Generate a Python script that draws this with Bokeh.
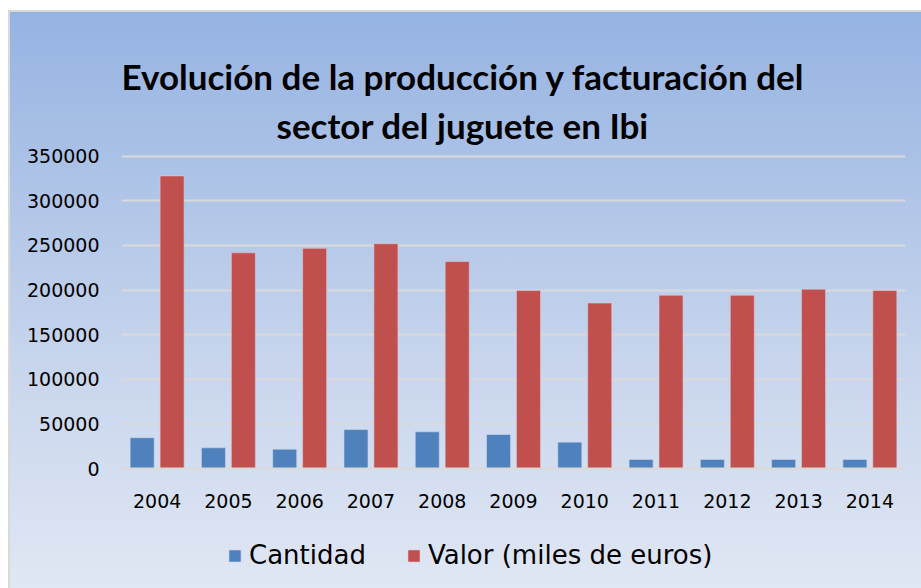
from bokeh.plotting import figure
from bokeh.models import (FactorRange, Title, Legend, LegendItem, FixedTicker,
                          NumeralTickFormatter, ColumnDataSource)
from bokeh.transform import dodge
from bokeh.embed import file_html
from bokeh.resources import INLINE

years = ['2004', '2005', '2006', '2007', '2008', '2009', '2010', '2011', '2012', '2013', '2014']
cantidad = [34500, 23200, 21600, 43700, 41100, 38100, 29500, 10100, 10100, 10100, 10100]
valor = [328000, 241800, 246800, 252000, 232000, 199500, 185500, 194200, 194200, 201000, 199500]
y_ticks = [0, 50000, 100000, 150000, 200000, 250000, 300000, 350000]
title_lines = ["Evolución de la producción y facturación del", "sector del juguete en Ibi"]
series_names = ["Cantidad", "Valor (miles de euros)"]

src = ColumnDataSource(dict(years=years, cantidad=cantidad, valor=valor))

# frame covers the plot and the space below it, so the legend sits inside the frame
FRAME_H, PX_ABOVE_ZERO = 434, 314
y_top = 352000
y_bottom = -y_top * (FRAME_H - PX_ABOVE_ZERO) / PX_ABOVE_ZERO

p = figure(x_range=FactorRange(*years, range_padding=0), y_range=(y_bottom, y_top),
           frame_width=784, frame_height=FRAME_H, output_backend="svg", toolbar_location=None,
           min_border_left=111, min_border_right=16, min_border_top=142,
           min_border_bottom=0)
p.styles = {"background": "linear-gradient(to bottom, #95b3e2 0px, #c6d4ec 340px, #e0e7f4 576px)",
            "border-top": "2px solid #d9d9d9", "border-left": "2px solid #d9d9d9",
            "margin-top": "10px", "margin-left": "8px"}
p.background_fill_alpha = 0
p.border_fill_alpha = 0
p.outline_line_color = None

r1 = p.vbar(x=dodge('years', -0.21, range=p.x_range), top='cantidad', width=0.337,
            source=src, fill_color="#4f81bd", line_color="#c9d6ea", line_alpha=0.6)
r2 = p.vbar(x=dodge('years', 0.21, range=p.x_range), top='valor', width=0.337,
            source=src, fill_color="#c0504d", line_color="#d9c9d9", line_alpha=0.6)

p.xgrid.grid_line_color = None
p.ygrid.grid_line_color = "#d9d9d9"
p.ygrid.grid_line_width = 2
p.yaxis.ticker = FixedTicker(ticks=y_ticks)
p.yaxis.formatter = NumeralTickFormatter(format="0")
p.yaxis.axis_line_color = None
p.yaxis.major_tick_line_color = None
p.yaxis.minor_tick_line_color = None
p.yaxis.major_label_text_font = "DejaVu Sans"
p.yaxis.major_label_text_font_size = "19px"
p.yaxis.major_label_text_color = "#000000"
p.yaxis.major_label_standoff = 16

p.xaxis.fixed_location = 0
p.xaxis.axis_line_color = "#d9d9d9"
p.xaxis.axis_line_width = 2
p.xaxis.major_tick_line_color = None
p.xaxis.minor_tick_line_color = None
p.xaxis.major_label_text_font = "DejaVu Sans"
p.xaxis.major_label_text_font_size = "19px"
p.xaxis.major_label_text_color = "#000000"
p.xaxis.major_label_standoff = 19

# title lines: add the lower line first so it sits nearest the frame
offsets = [0, 155]
standoffs = [-6, 17]
for i in (1, 0):
    p.add_layout(Title(text=title_lines[i], align="left", offset=offsets[i],
                       text_font="Lato", text_font_style="bold", text_font_size="35px",
                       text_color="#000000", standoff=standoffs[i]), "above")

legend = Legend(items=[LegendItem(label=series_names[0], renderers=[r1]),
                       LegendItem(label=series_names[1], renderers=[r2])],
                orientation="horizontal", location=(106, 18),
                label_text_font="DejaVu Sans", label_text_font_size="26px",
                label_text_color="#000000", glyph_width=15, glyph_height=15,
                label_standoff=7, spacing=40, padding=0, margin=0,
                background_fill_alpha=0, border_line_color=None)
p.add_layout(legend, "center")

open("out.html", "w").write(file_html(p, INLINE))
